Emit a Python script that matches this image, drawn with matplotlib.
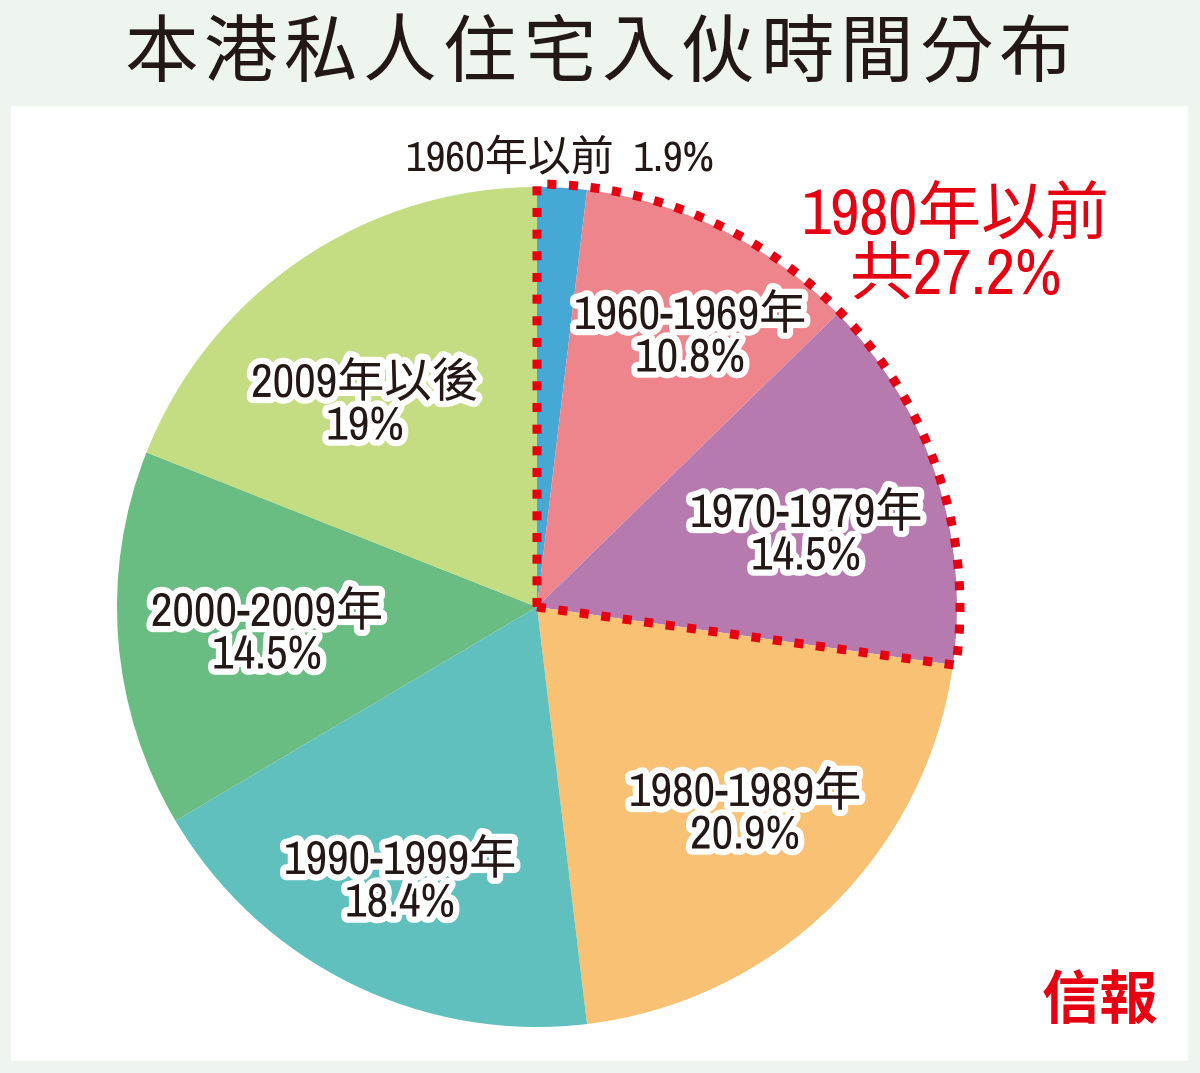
import numpy as np
import matplotlib
matplotlib.use("Agg")
import matplotlib.pyplot as plt
from matplotlib.patches import Rectangle
import matplotlib.patheffects as pe

# data
periods = ["1960年以前", "1960-1969年", "1970-1979年", "1980-1989年",
           "1990-1999年", "2000-2009年", "2009年以後"]
shares = [1.9, 10.8, 14.5, 20.9, 18.4, 14.5, 19.0]
share_text = ["1.9%", "10.8%", "14.5%", "20.9%", "18.4%", "14.5%", "19%"]
colors = ["#46a8d5", "#ef858c", "#b77aaf", "#f9c173",
          "#5fc0bd", "#69bd82", "#c4dc82"]
title = "本港私人住宅入伙時間分布"
pre1980_slices = 3

W, H = 1200, 1073
RED = "#e60012"
INK = "#231815"
# narrow latin face like the print original, CJK from Noto
fam = ["Archivo Narrow", "Noto Sans CJK TC", "DejaVu Sans"]
cjk = ["Noto Sans CJK TC", "DejaVu Sans"]


def py(y):
    # pixel row -> data y
    return H - y


fig = plt.figure(figsize=(W / 100, H / 100), dpi=100, facecolor="#eef5ef")
ax = fig.add_axes([0, 0, 1, 1])

cx, cy, r = 537, py(607), 420
wedges, _ = ax.pie(shares, colors=colors, startangle=90, counterclock=False,
                   center=(cx, cy), radius=r, frame=True,
                   wedgeprops=dict(linewidth=0), normalize=True)
ax.set_xlim(0, W)
ax.set_ylim(0, H)
ax.set_aspect("equal")
ax.set_axis_off()

ax.add_patch(Rectangle((11, py(1061)), 1177, 955, facecolor="white",
                       edgecolor="none", zorder=-1))

# title, one glyph at a time for the wide tracking
for i, ch in enumerate(title):
    ax.text(161 + i * 79.5, py(55), ch, fontsize=53, family=cjk,
            color=INK, ha="center", va="center")

# dotted outline around everything built before 1980
end_deg = 90 - 360 * sum(shares[:pre1980_slices]) / sum(shares)
theta = np.radians(np.linspace(90, end_deg, 200))
rr = r + 3
xs = np.concatenate([[cx], cx + rr * np.cos(theta), [cx]])
ys = np.concatenate([[cy], cy + rr * np.sin(theta), [cy]])
ax.plot(xs, ys, color=RED, linewidth=6.5, linestyle=(0, (1.0, 1.4)),
        dash_capstyle="butt", zorder=5)

halo = [pe.withStroke(linewidth=9, foreground="white")]
label_pos = [None, (690, 315), (806, 513), (745, 792),
             (400, 860), (267, 612), (365, 383)]
for name, pct, pos in zip(periods, share_text, label_pos):
    if pos is None:
        continue
    x, y = pos
    ax.text(x, py(y), name, fontsize=34, family=fam, color=INK,
            ha="center", va="center", path_effects=halo, zorder=6)
    ax.text(x, py(y + 43), pct, fontsize=34, family=fam, color=INK,
            ha="center", va="center", path_effects=halo, zorder=6)

ax.text(560, py(157), f"{periods[0]}  {share_text[0]}", fontsize=31,
        family=fam, color=INK, ha="center", va="center", zorder=6)

pre_total = sum(shares[:pre1980_slices])
ax.text(956, py(216), "1980年以前", fontsize=46, family=fam, color=RED,
        ha="center", va="center", zorder=6)
ax.text(956, py(276), f"共{pre_total:.1f}%", fontsize=46, family=fam,
        color=RED, ha="center", va="center", zorder=6)

ax.text(1100, py(1003), "信報", fontsize=42, family=cjk, weight="bold",
        color=RED, ha="center", va="center", zorder=6)

fig.savefig("out.png", dpi=100, facecolor=fig.get_facecolor())
